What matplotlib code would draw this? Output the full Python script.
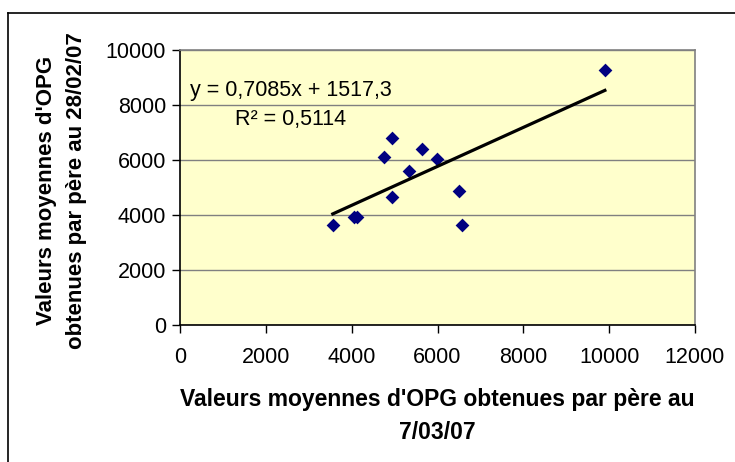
import matplotlib
matplotlib.use("Agg")
import numpy as np
import matplotlib.pyplot as plt
from matplotlib.lines import Line2D

# === data ===
opg_0703 = [3560, 4050, 4120, 4760, 4950, 4950, 5330, 5650, 5980, 6490, 6580, 9900]
opg_2802 = [3640, 3930, 3930, 6120, 6790, 4660, 5610, 6410, 6040, 4880, 3640, 9270]

slope = 0.7085
intercept = 1517.3
eq_label = "y = 0,7085x + 1517,3"
r2_label = "R² = 0,5114"

xlabel = "Valeurs moyennes d'OPG obtenues par père au\n7/03/07"
ylabel = "Valeurs moyennes d'OPG\nobtenues par père au 28/02/07"

x_ticks = [0, 2000, 4000, 6000, 8000, 10000, 12000]
y_ticks = [0, 2000, 4000, 6000, 8000, 10000]

plt.rcParams["font.family"] = ["Liberation Sans", "DejaVu Sans"]

fig = plt.figure(figsize=(7.35, 4.62), dpi=100)
ax = fig.add_axes([180 / 735, 1 - 325 / 462, 515 / 735, 275 / 462])
ax.set_facecolor("#FFFFCC")

# outer chart border (top and left visible only)
fig.add_artist(Line2D([8 / 735, 1.0], [1 - 13 / 462, 1 - 13 / 462], color="black", lw=1.2, transform=fig.transFigure))
fig.add_artist(Line2D([8 / 735, 8 / 735], [1 - 13 / 462, 0.0], color="black", lw=1.2, transform=fig.transFigure))

ax.scatter(opg_0703, opg_2802, marker="D", s=7 ** 2, color="#000080", zorder=3, linewidths=0)

# linear trend line over the data range
xs = np.array([min(opg_0703), max(opg_0703)])
ax.plot(xs, slope * xs + intercept, color="black", lw=2.3, zorder=4)

ax.text(230, 8520, eq_label, fontsize=15.5, va="center", ha="left")
ax.text(1280, 7480, r2_label, fontsize=15.5, va="center", ha="left")

ax.set_xlim(0, 12000)
ax.set_ylim(0, 10000)
ax.set_xticks(x_ticks)
ax.set_yticks(y_ticks)
ax.tick_params(axis="both", labelsize=15.5, length=6, width=1, direction="out", color="black")
ax.tick_params(axis="x", pad=10)
ax.tick_params(axis="y", pad=4)

ax.yaxis.grid(True, color="#808080", lw=1)
ax.set_axisbelow(True)

for side in ["top", "right"]:
    ax.spines[side].set_color("#808080")
    ax.spines[side].set_linewidth(1.2)
for side in ["bottom", "left"]:
    ax.spines[side].set_color("black")
    ax.spines[side].set_linewidth(1.2)

ax.set_xlabel(xlabel, fontsize=16.5, fontweight="bold", labelpad=14, linespacing=1.55)
ax.set_ylabel(ylabel, fontsize=16, fontweight="bold", linespacing=1.55)
ax.yaxis.set_label_coords(-93 / 515, 0.49)

fig.savefig("out.png", dpi=100)
